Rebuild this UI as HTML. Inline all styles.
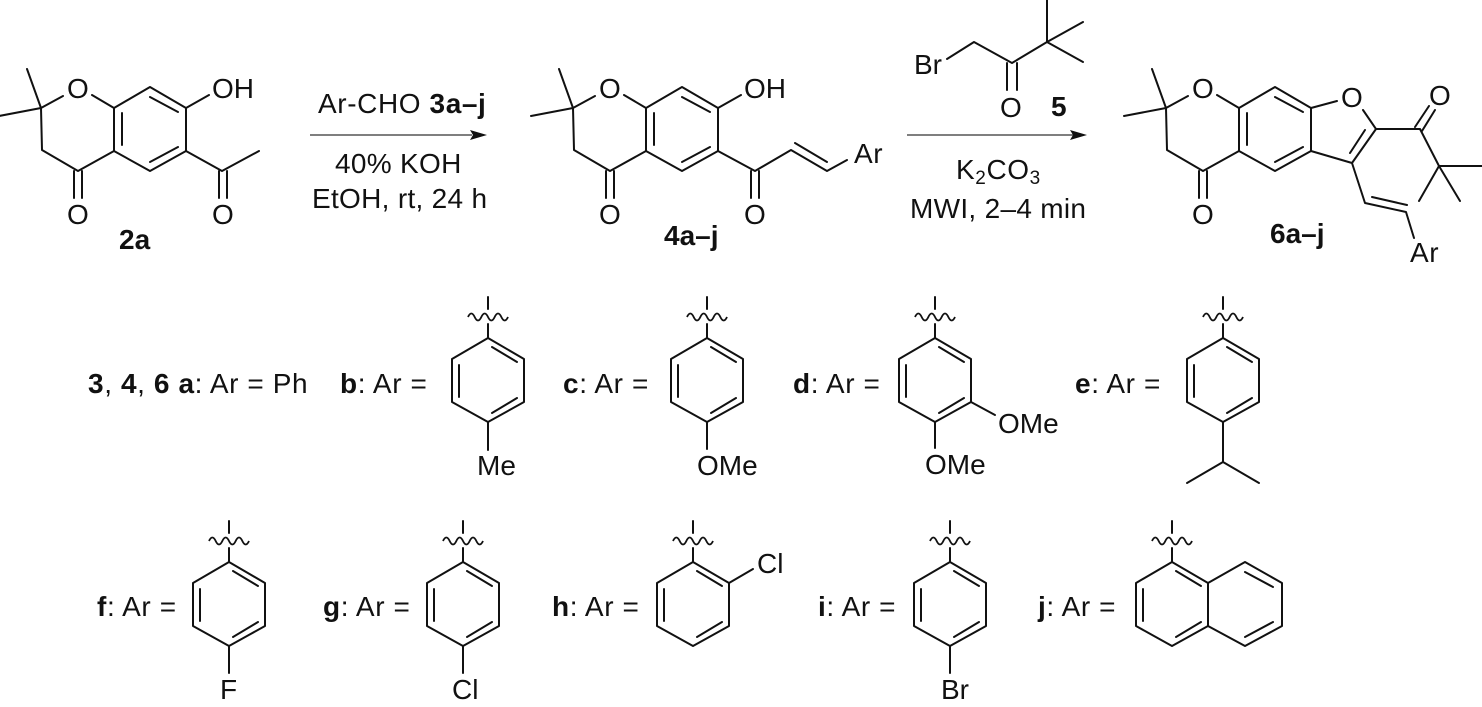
<!DOCTYPE html>
<html><head><meta charset="utf-8"><style>
html,body{margin:0;padding:0;background:#fff}
svg{display:block}
text{font-family:"Liberation Sans",Arial,sans-serif;font-size:28px;fill:#111}
.b{font-weight:bold}
.l{letter-spacing:.6px}
.c{letter-spacing:.3px}
.bn{fill:none;stroke:#111;stroke-width:2;stroke-linecap:round;stroke-linejoin:round}
.w{fill:none;stroke:#111;stroke-width:1.8}
</style></head><body>
<svg width="1482" height="707" viewBox="0 0 1482 707" xmlns="http://www.w3.org/2000/svg">
<defs>
<g id="core"><path class="bn" d="M27,69L41,108M-1,116L41,108M41,108L63,96M92,95L114,108L150,87L186,108L186,151L150,171L114,151L114,108M114,151L78,171L42,150L41,108M74,171V198M82,171V198M122,113V145M150,97L178,112M150,162L178,147"/></g>
<g id="ar"><path class="bn" d="M0,-41V-29M0,-14V0L-36,21V64L0,84L36,64V21L0,0M-29,27V59M4,9L29,24M4,75L29,60"/><path class="w" d="M-20,-21q3.33,-7 6.67,0t6.67,0t6.67,0t6.67,0t6.67,0t6.67,0"/></g>
</defs>

<!-- 2a -->
<use href="#core"/>
<path class="bn" d="M186,108L209,95M186,151L222,171L259,151M219,171V198M227,171V198"/>
<text x="67" y="98">O</text><text x="212" y="98">OH</text>
<text x="67" y="224">O</text><text x="212" y="224">O</text>
<text class="b" x="119" y="249">2a</text>

<!-- arrow 1 -->
<text class="l" x="318" y="113">Ar-CHO <tspan class="b">3a–j</tspan></text>
<path d="M310,135H472" stroke="#555" stroke-width="1.5" fill="none"/>
<path d="M487,135L470,130L473,135L470,140Z" fill="#111"/>
<text class="c" x="335" y="173">40% KOH</text>
<text class="c" x="312" y="208">EtOH, rt, 24 h</text>

<!-- 4a-j -->
<use href="#core" x="532"/>
<path class="bn" d="M718,108L741,95M718,151L755,171L791,150L827,171L847,160M751,171V198M759,171V198M795,143L827,162"/>
<text x="599" y="98">O</text><text x="744" y="98">OH</text>
<text x="599" y="224">O</text><text x="744" y="224">O</text>
<text class="l" x="854" y="163">Ar</text>
<text class="b" x="664" y="245">4a–j</text>

<!-- reagent 5 -->
<text x="914" y="74">Br</text>
<path class="bn" d="M947,59L974,42L1012,63L1047,42M1047,0V42L1083,22M1047,42L1083,62M1007,63V90M1017,63V90"/>
<text x="1000" y="117">O</text>
<text class="b" x="1051" y="116">5</text>
<path d="M907,135H1073" stroke="#555" stroke-width="1.5" fill="none"/>
<path d="M1087,135L1070,130L1073,135L1070,140Z" fill="#111"/>
<text class="l" x="956" y="179">K<tspan font-size="19" dy="5">2</tspan><tspan dy="-5">CO</tspan><tspan font-size="19" dy="5">3</tspan></text>
<text class="c" x="910" y="218">MWI, 2–4 min</text>

<!-- 6a-j -->
<use href="#core" x="1125"/>
<path class="bn" d="M1337,101L1311,108M1311,151L1352,163L1376,129L1363,110M1365,130L1350,153M1376,129H1420L1439,166H1482M1439,166L1419,201M1439,166L1460,201M1415,127L1429,106M1422,131L1435,110M1352,163L1365,203L1406,212L1414,238M1372,197L1407,205"/>
<text x="1192" y="98">O</text><text x="1341" y="107">O</text>
<text x="1429" y="105">O</text><text x="1192" y="224">O</text>
<text class="l" x="1410" y="262">Ar</text>
<text class="b" x="1270" y="243">6a–j</text>

<!-- row 1 -->
<text class="l" x="88" y="393"><tspan class="b">3</tspan>, <tspan class="b">4</tspan>, <tspan class="b">6 a</tspan>: Ar = Ph</text>
<text class="l" x="340" y="393"><tspan class="b">b</tspan>: Ar =</text>
<use href="#ar" x="488" y="338"/>
<path class="bn" d="M488,422V450"/>
<text x="477" y="475">Me</text>

<text class="l" x="563" y="393"><tspan class="b">c</tspan>: Ar =</text>
<use href="#ar" x="707" y="338"/>
<path class="bn" d="M707,422V449"/>
<text x="697" y="475">OMe</text>

<text class="l" x="793" y="393"><tspan class="b">d</tspan>: Ar =</text>
<use href="#ar" x="935" y="338"/>
<path class="bn" d="M935,422V448M971,402L995,415"/>
<text x="925" y="474">OMe</text>
<text x="998" y="433">OMe</text>

<text class="l" x="1075" y="393"><tspan class="b">e</tspan>: Ar =</text>
<use href="#ar" x="1223" y="338"/>
<path class="bn" d="M1223,422V462L1187,483M1223,462L1259,483"/>

<!-- row 2 -->
<text class="l" x="97" y="616"><tspan class="b">f</tspan>: Ar =</text>
<use href="#ar" x="229" y="562"/>
<path class="bn" d="M229,646V673"/>
<text x="220" y="699">F</text>

<text class="l" x="323" y="616"><tspan class="b">g</tspan>: Ar =</text>
<use href="#ar" x="463" y="562"/>
<path class="bn" d="M463,646V673"/>
<text x="452" y="699">Cl</text>

<text class="l" x="552" y="616"><tspan class="b">h</tspan>: Ar =</text>
<use href="#ar" x="693" y="562"/>
<path class="bn" d="M729,583L753,569"/>
<text x="757" y="573">Cl</text>

<text class="l" x="818" y="616"><tspan class="b">i</tspan>: Ar =</text>
<use href="#ar" x="950" y="562"/>
<path class="bn" d="M950,646V673"/>
<text x="941" y="699">Br</text>

<text class="l" x="1038" y="616"><tspan class="b">j</tspan>: Ar =</text>
<use href="#ar" x="1172" y="562"/>
<path class="bn" d="M1208,583L1245,562L1282,583V626L1245,646L1208,626M1245,572L1273,587M1245,637L1273,622"/>
</svg>
</body></html>
